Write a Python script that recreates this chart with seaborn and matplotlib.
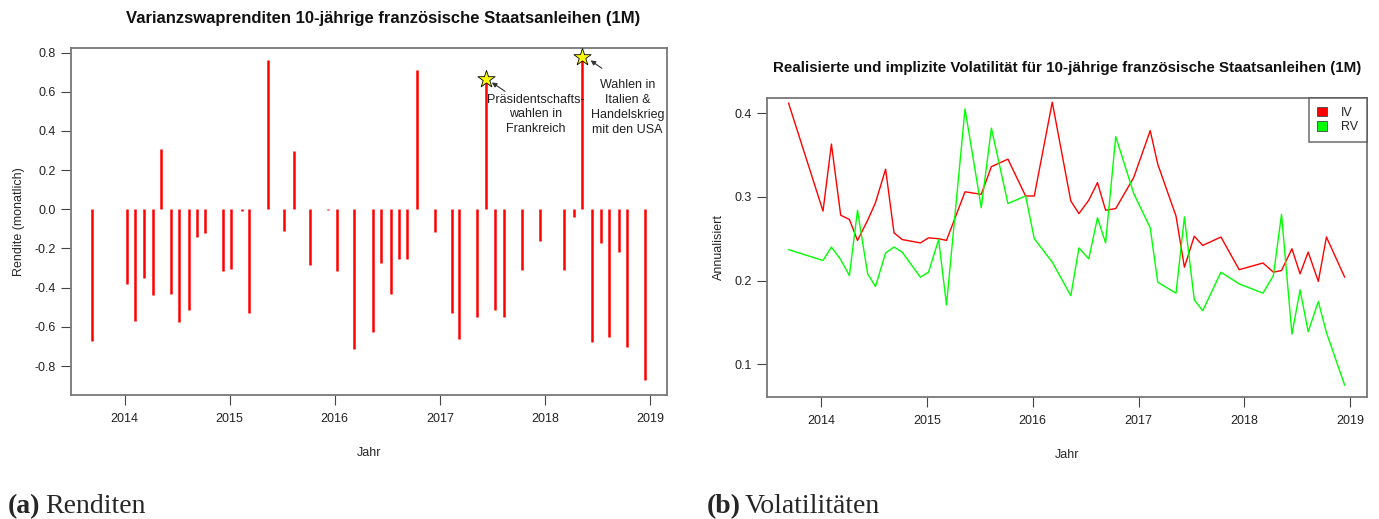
import pandas as pd
import seaborn as sns
import matplotlib.pyplot as plt
import matplotlib.dates as mdates

# observation dates (monthly, some months missing)
dates = ["2013-09-11", "2014-01-08", "2014-02-06", "2014-03-10", "2014-04-09",
         "2014-05-07", "2014-06-11", "2014-07-08", "2014-08-12", "2014-09-10",
         "2014-10-08", "2014-12-10", "2015-01-07", "2015-02-11", "2015-03-10",
         "2015-05-13", "2015-07-08", "2015-08-12", "2015-10-08", "2015-12-08",
         "2016-01-07", "2016-03-09", "2016-05-12", "2016-06-09", "2016-07-13",
         "2016-08-12", "2016-09-09", "2016-10-14", "2016-12-15", "2017-02-10",
         "2017-03-08", "2017-05-10", "2017-06-08", "2017-07-12", "2017-08-10",
         "2017-10-12", "2017-12-14", "2018-03-06", "2018-04-11", "2018-05-09",
         "2018-06-14", "2018-07-12", "2018-08-09", "2018-09-13", "2018-10-11",
         "2018-12-13"]

renditen = [-0.67, -0.38, -0.57, -0.35, -0.44, 0.31, -0.43, -0.575, -0.515, -0.14,
            -0.12, -0.315, -0.305, -0.01, -0.53, 0.76, -0.11, 0.295, -0.285, -0.005,
            -0.315, -0.715, -0.625, -0.275, -0.43, -0.255, -0.255, 0.71, -0.115, -0.53,
            -0.66, -0.55, 0.665, -0.515, -0.55, -0.31, -0.16, -0.31, -0.04, 0.775,
            -0.675, -0.17, -0.65, -0.22, -0.705, -0.87]

iv = [0.412, 0.283, 0.363, 0.278, 0.273, 0.248, 0.272, 0.293, 0.333, 0.257,
      0.249, 0.245, 0.251, 0.250, 0.248, 0.306, 0.303, 0.336, 0.345, 0.301,
      0.301, 0.413, 0.295, 0.280, 0.296, 0.317, 0.284, 0.286, 0.323, 0.379,
      0.339, 0.277, 0.216, 0.253, 0.242, 0.252, 0.213, 0.221, 0.210, 0.212,
      0.238, 0.208, 0.234, 0.199, 0.252, 0.204]

rv = [0.237, 0.224, 0.240, 0.225, 0.206, 0.284, 0.208, 0.193, 0.233, 0.240,
      0.234, 0.204, 0.210, 0.249, 0.171, 0.405, 0.287, 0.382, 0.292, 0.301,
      0.250, 0.222, 0.182, 0.239, 0.226, 0.275, 0.245, 0.372, 0.304, 0.263,
      0.198, 0.185, 0.276, 0.177, 0.164, 0.210, 0.196, 0.185, 0.206, 0.279,
      0.136, 0.189, 0.139, 0.175, 0.138, 0.075]

events = ["2017-06-08", "2018-05-09"]
event_labels = ["Präsidentschafts-\nwahlen in\nFrankreich",
                "Wahlen in\nItalien &\nHandelskrieg\nmit den USA"]
year_ticks = ["2014", "2015", "2016", "2017", "2018", "2019"]


def yr(y):
    # decimal year -> Timestamp (for placing text)
    return pd.Timestamp("2014-01-01") + pd.Timedelta(days=(y - 2014) * 365.25)


sns.set_style("white")
plt.rcParams['font.family'] = ['Liberation Sans', 'DejaVu Sans']
plt.rcParams['axes.unicode_minus'] = False

df = pd.DataFrame({"Datum": pd.to_datetime(dates), "Rendite": renditen,
                   "IV": iv, "RV": rv})
vol = df.melt(id_vars="Datum", value_vars=["IV", "RV"], var_name="Serie", value_name="Vol")
ev = df[df["Datum"].isin(pd.to_datetime(events))]

fig = plt.figure(figsize=(13.79, 5.19), dpi=100)
ax1 = fig.add_axes([71 / 1379, 1 - 395 / 519, 596 / 1379, 347 / 519])
ax2 = fig.add_axes([767 / 1379, 1 - 397 / 519, 600 / 1379, 299 / 519])

# left: returns as vertical lines
ax1.vlines(df["Datum"], 0, df["Rendite"], color="#ff0000", lw=1.8)
sns.scatterplot(data=ev, x="Datum", y="Rendite", marker="*", s=170, color="#ffff00",
                edgecolor="black", linewidth=0.6, zorder=4, ax=ax1)
ax1.annotate("", xy=(yr(2017.47), 0.655), xytext=(yr(2017.64), 0.594),
             arrowprops=dict(arrowstyle="-|>", lw=0.8, color="#333333", mutation_scale=7))
ax1.annotate("", xy=(yr(2018.41), 0.768), xytext=(yr(2018.56), 0.711),
             arrowprops=dict(arrowstyle="-|>", lw=0.8, color="#333333", mutation_scale=7))
ax1.text(yr(2017.91), 0.484, event_labels[0], ha="center", va="center", fontsize=9,
         linespacing=1.32, color="#222222")
ax1.text(yr(2018.78), 0.52, event_labels[1], ha="center", va="center", fontsize=9,
         linespacing=1.32, color="#222222")
ax1.set_ylim(-0.948, 0.823)
ax1.set_yticks([-0.8, -0.6, -0.4, -0.2, 0.0, 0.2, 0.4, 0.6, 0.8])
ax1.set_yticklabels(["-0.8", "-0.6", "-0.4", "-0.2", "0.0", "0.2", "0.4", "0.6", "0.8"])
ax1.set_ylabel("Rendite (monatlich)", fontsize=9, labelpad=7)

# right: implied vs realized volatility
sns.lineplot(data=vol, x="Datum", y="Vol", hue="Serie", palette={"IV": "#ff0000", "RV": "#00ff00"},
             lw=1, ax=ax2, legend=False)
ax2.set_ylim(0.061, 0.418)
ax2.set_yticks([0.1, 0.2, 0.3, 0.4])
ax2.set_ylabel("Annualisiert", fontsize=9, labelpad=7)
handles = [plt.Rectangle((0, 0), 1, 1, fc="#ff0000", ec="#444444", lw=0.6),
           plt.Rectangle((0, 0), 1, 1, fc="#00ff00", ec="#444444", lw=0.6)]
leg = ax2.legend(handles, ["IV", "RV"], loc="upper right", fontsize=9, frameon=True,
                 fancybox=False, borderaxespad=0, handlelength=0.8, handleheight=0.8,
                 handletextpad=1.1, labelspacing=0.2, borderpad=0.7)
leg.get_frame().set_edgecolor("#555555")
leg.get_frame().set_linewidth(1.2)

for ax in (ax1, ax2):
    ax.set_xlim(yr(2013.49), yr(2019.158))
    ax.set_xticks(pd.to_datetime(year_ticks))
    ax.xaxis.set_major_formatter(mdates.DateFormatter("%Y"))
    ax.set_xlabel("Jahr", fontsize=9, labelpad=16)
    ax.tick_params(axis="both", direction="out", length=7, width=0.8, color="#444444",
                   labelsize=9, labelcolor="#222222", bottom=True, left=True, pad=4)
    ax.tick_params(axis="x", pad=6)
    for s in ax.spines.values():
        s.set_color("#777777")
        s.set_linewidth(1.3)

fig.text(383 / 1379, 1 - 18 / 519, "Varianzswaprenditen 10-jährige französische Staatsanleihen (1M)",
         ha="center", va="center", fontsize=12, fontweight="bold", color="#111111")
fig.text(1067 / 1379, 1 - 68 / 519,
         "Realisierte und implizite Volatilität für 10-jährige französische Staatsanleihen (1M)",
         ha="center", va="center", fontsize=10.9, fontweight="bold", color="#111111")

fig.text(8 / 1379, 1 - 513 / 519, "(a)", ha="left", va="baseline", fontsize=20,
         fontweight="bold", family="Liberation Serif")
fig.text(45 / 1379, 1 - 513 / 519, "Renditen", ha="left", va="baseline", fontsize=20,
         family="Liberation Serif")
fig.text(707 / 1379, 1 - 513 / 519, "(b)", ha="left", va="baseline", fontsize=20,
         fontweight="bold", family="Liberation Serif")
fig.text(745 / 1379, 1 - 513 / 519, "Volatilitäten", ha="left", va="baseline", fontsize=20,
         family="Liberation Serif")

plt.savefig("out.png", dpi=100)
